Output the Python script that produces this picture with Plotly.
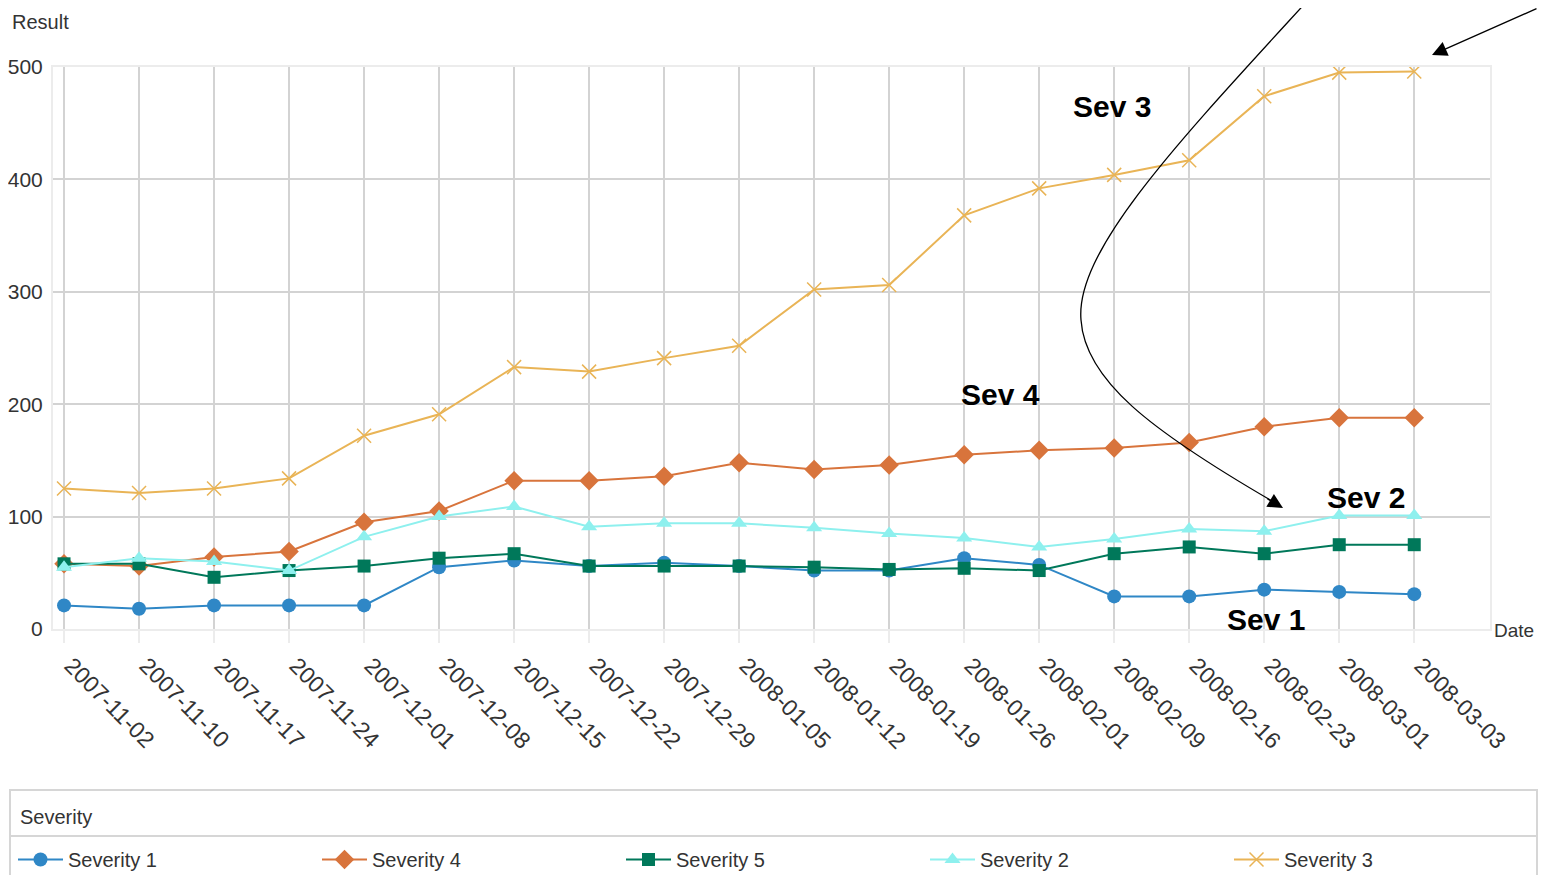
import plotly.graph_objects as go

dates = ["2007-11-02", "2007-11-10", "2007-11-17", "2007-11-24", "2007-12-01",
         "2007-12-08", "2007-12-15", "2007-12-22", "2007-12-29", "2008-01-05",
         "2008-01-12", "2008-01-19", "2008-01-26", "2008-02-01", "2008-02-09",
         "2008-02-16", "2008-02-23", "2008-03-01", "2008-03-03"]

sev1 = [21, 18, 21, 21, 21, 55, 61, 56, 59, 56, 52, 52, 63, 57, 29, 29, 35, 33, 31]
sev4 = [58, 56, 64, 69, 95, 105, 132, 132, 136, 148, 142, 146, 155, 159, 161, 166, 180, 188, 188]
sev5 = [58, 58, 46, 52, 56, 63, 67, 56, 56, 56, 55, 53, 54, 52, 67, 73, 67, 75, 75]
sev2 = [55, 63, 60, 52, 82, 100, 109, 91, 94, 94, 90, 85, 81, 73, 80, 89, 87, 101, 101]
sev3 = [125, 121, 125, 134, 172, 191, 233, 229, 241, 252, 302, 306, 368, 392, 404, 417, 474, 495, 496]

FONT = "Liberation Sans, Arial, sans-serif"
OFF = 8  # page body margin: the figure is drawn 8px in from each edge
W, H = 1546 - 2 * OFF, 883 - 2 * OFF
L, R, T = 53 - OFF, 1546 - OFF - 1490, 67 - OFF
PH = 562
B = H - T - PH
PW = W - L - R


# reference pixel -> paper helpers for the hand-drawn bits
def px(x):
    return (x - OFF - L) / PW


def py(y):
    return (H - B - (y - OFF)) / PH


series = [
    ("Severity 1", sev1, "#2f87c6", "circle", 14, "legend"),
    ("Severity 4", sev4, "#d8743c", "diamond", 15, "legend"),
    ("Severity 5", sev5, "#00785a", "square", 13, "legend"),
    ("Severity 2", sev2, "#8ef0ee", "triangle-up", 14, "legend"),
    ("Severity 3", sev3, "#e9b456", "x-thin-open", 14, "legend2"),
]

fig = go.Figure()
for name, vals, color, sym, size, leg in series:
    fig.add_trace(go.Scatter(
        x=dates, y=vals, name=name, mode="lines+markers", legend=leg,
        line=dict(color=color, width=2),
        marker=dict(symbol=sym, size=size, color=color,
                    line=dict(color=color, width=1.5 if "open" in sym else 0)),
    ))

# curved arrow + arrow heads
curve = (f"M {px(1310)},{py(-2)} "
         f"C {px(1180)},{py(140)} {px(1075)},{py(250)} {px(1081)},{py(320)} "
         f"C {px(1085)},{py(380)} {px(1150)},{py(430)} {px(1272)},{py(501)}")

shapes = [
    dict(type="path", path=curve, xref="paper", yref="paper",
         line=dict(color="black", width=1.3)),
    # legend box
    dict(type="rect", xref="paper", yref="paper",
         x0=px(10), x1=px(1537), y0=py(900), y1=py(790),
         line=dict(color="#d6d6d6", width=2)),
    dict(type="line", xref="paper", yref="paper",
         x0=px(10), x1=px(1537), y0=py(836), y1=py(836),
         line=dict(color="#d6d6d6", width=2)),
]

annotations = [
    dict(x=px(1432), y=py(55), text="", showarrow=True, ax=108, ay=-57,
         arrowhead=2, arrowsize=2.3, arrowwidth=1.3, arrowcolor="black"),
    dict(x=px(1283), y=py(508), text="", showarrow=True, ax=-17, ay=-10,
         arrowhead=2, arrowsize=2.3, arrowwidth=1.3, arrowcolor="black"),
    dict(x=px(10), y=py(22), text="Result", xanchor="left", yanchor="middle"),
    dict(x=px(1536), y=py(630), text="Date", xanchor="right", yanchor="middle",
         font=dict(size=19, color="#333", family=FONT)),
    dict(x=px(18), y=py(817), text="Severity", xanchor="left", yanchor="middle"),
]
for txt, cx, cy in [("Sev 3", 1112, 106), ("Sev 4", 1000, 394),
                    ("Sev 2", 1366, 497), ("Sev 1", 1266, 619)]:
    annotations.append(dict(x=px(cx), y=py(cy), text=f"<b>{txt}</b>",
                            xanchor="center", yanchor="middle",
                            font=dict(size=30, color="black", family=FONT)))
for a in annotations:
    a.setdefault("xref", "paper")
    a.setdefault("yref", "paper")
    a.setdefault("showarrow", False)
    a.setdefault("font", dict(size=20, color="#333", family=FONT))

legend_style = dict(orientation="h", y=py(840), xanchor="left", yanchor="top",
                    entrywidth=244, entrywidthmode="pixels", itemwidth=45,
                    font=dict(size=20, color="#333", family=FONT),
                    bgcolor="rgba(0,0,0,0)")

fig.update_layout(
    width=W, height=H,
    margin=dict(l=L, r=R, t=T, b=B, autoexpand=False),
    paper_bgcolor="white", plot_bgcolor="white",
    font=dict(family=FONT, size=20, color="#333"),
    shapes=shapes, annotations=annotations,
    showlegend=True,
    legend=dict(x=px(13), **legend_style),
    legend2=dict(x=px(13 + 4 * 304), **legend_style),
)
fig.update_xaxes(
    type="category", range=[-0.147, 19.01],
    showgrid=True, gridcolor="#d3d3d3", gridwidth=1.5,
    showline=True, linecolor="#ececec", linewidth=2, mirror=True,
    ticks="outside", ticklen=12, tickwidth=1.5, tickcolor="#ececec",
    tickangle=45, ticklabelshift=7,
    tickfont=dict(size=23, color="#333", family=FONT),
)
fig.update_yaxes(
    range=[0, 500], dtick=100, zeroline=False,
    showgrid=True, gridcolor="#d3d3d3", gridwidth=1.5,
    showline=True, linecolor="#ececec", linewidth=2, mirror=True,
    ticks="", ticklabelstandoff=4,
    tickfont=dict(size=21, color="#333", family=FONT),
)

fig.write_html("out.html")
